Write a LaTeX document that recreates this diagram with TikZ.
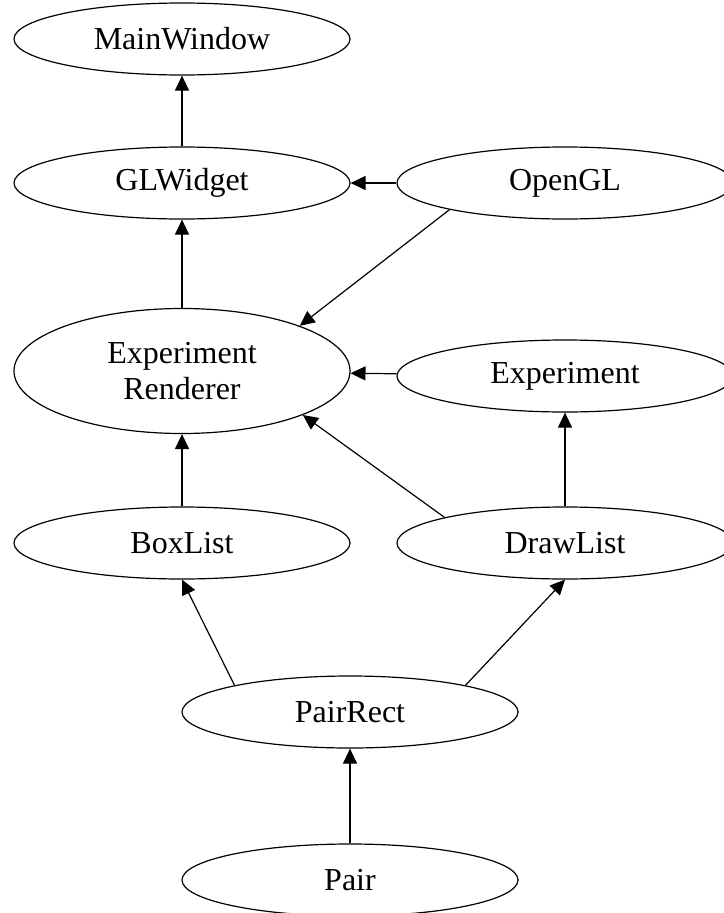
\documentclass[tikz,border=0pt]{standalone}
\usepackage{fontspec}
\setmainfont{Liberation Serif}
\usetikzlibrary{shapes.geometric,arrows.meta}

\begin{document}
\begin{tikzpicture}[x=1pt,y=-1pt,
  class/.style={ellipse, draw, line width=1.2pt, minimum width=336pt,
    minimum height=72pt, inner sep=0pt, align=center,
    font=\fontsize{32}{36}\selectfont},
  uses/.style={-{Triangle[length=15pt,width=14pt]}, line width=1.2pt}]
  \useasboundingbox (0,0) rectangle (723,913);

  % Classes
  \node[class] (mainwindow) at (182,39) {MainWindow};
  \node[class] (glwidget) at (182,183) {GLWidget};
  \node[class] (opengl) at (565,183) {OpenGL};
  \node[class, minimum height=125pt] (renderer) at (182,371) {Experiment\\Renderer};
  \node[class] (experiment) at (565,376) {Experiment};
  \node[class] (boxlist) at (182,543) {BoxList};
  \node[class] (drawlist) at (565,543) {DrawList};
  \node[class] (pairrect) at (350,712) {PairRect};
  \node[class] (pair) at (350,880) {Pair};

  % Dependencies
  \draw[uses] (glwidget) -- (mainwindow);
  \draw[uses] (opengl) -- (glwidget);
  \draw[uses] (renderer) -- (glwidget);
  \draw[uses] (opengl.193) -- (renderer.21);
  \draw[uses] (experiment) -- (renderer);
  \draw[uses] (boxlist) -- (renderer);
  \draw[uses] (drawlist.168) -- (renderer.-20);
  \draw[uses] (drawlist) -- (experiment);
  \draw[uses] (pairrect.167) -- (boxlist.south);
  \draw[uses] (pairrect.13) -- (drawlist.south);
  \draw[uses] (pair) -- (pairrect);
\end{tikzpicture}
\end{document}
